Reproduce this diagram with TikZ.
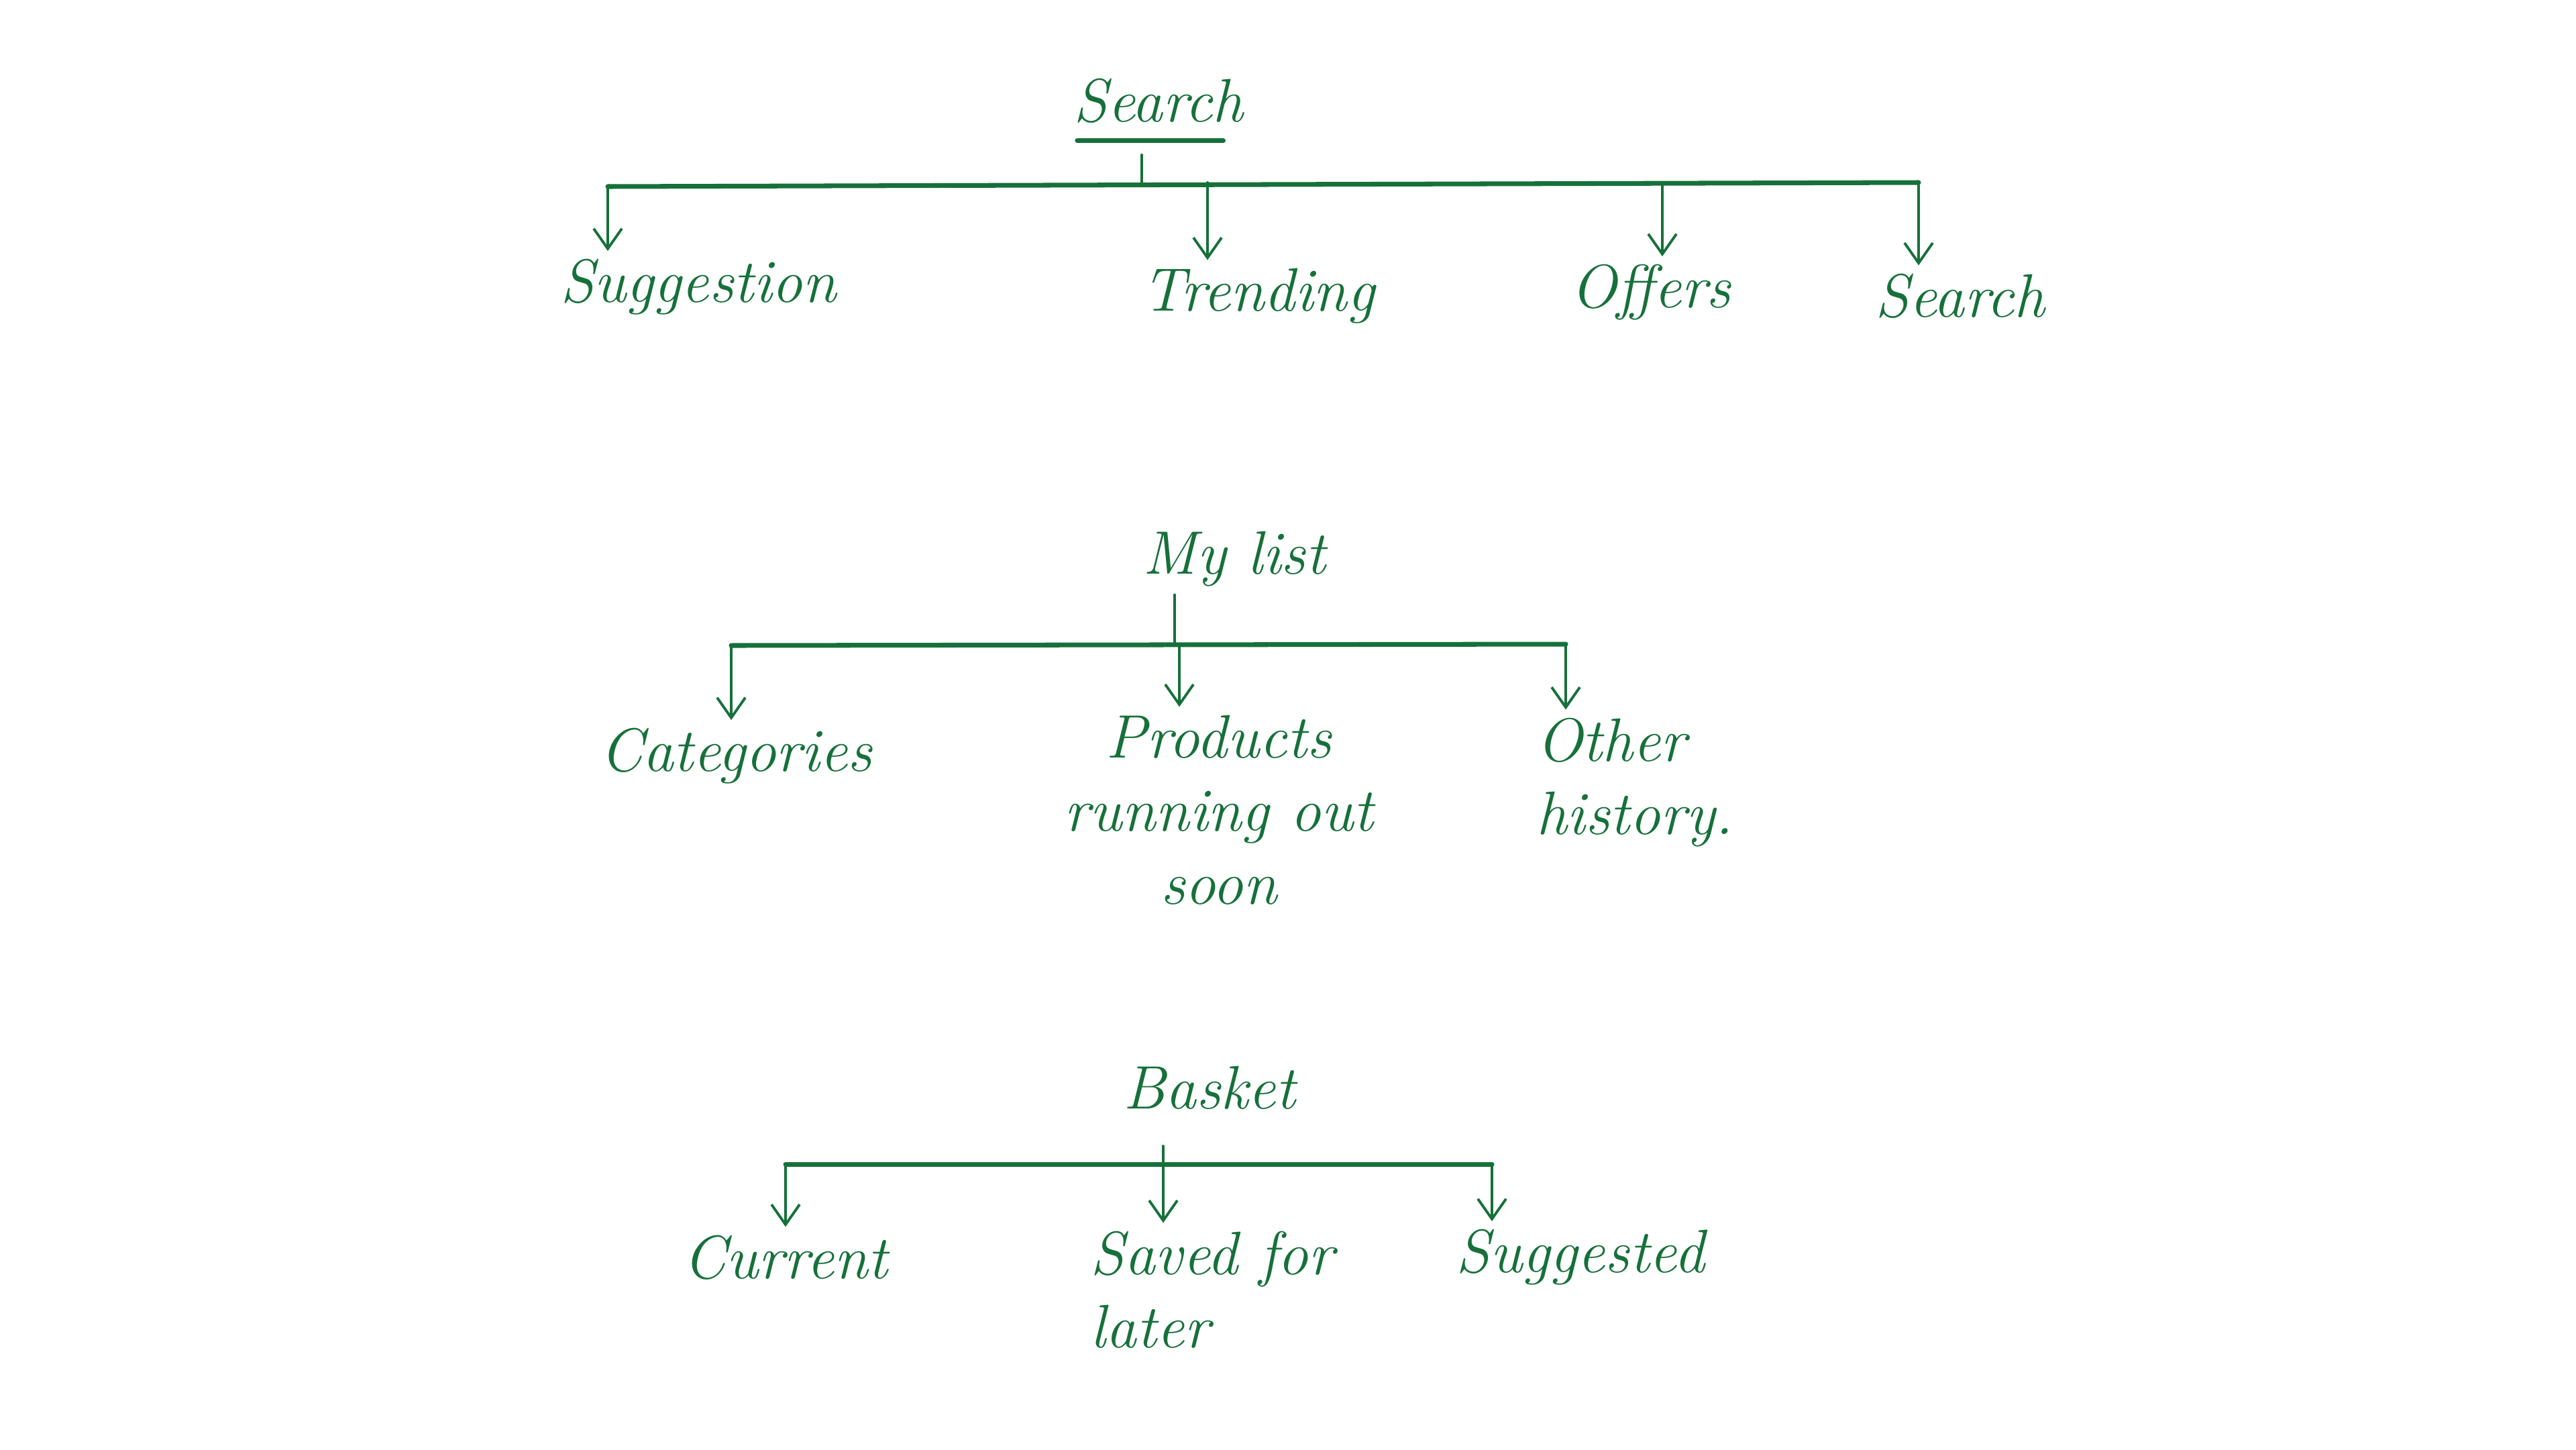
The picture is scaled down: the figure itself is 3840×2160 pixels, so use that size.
\documentclass[tikz,border=0pt]{standalone}
\usetikzlibrary{arrows.meta}
\definecolor{ink}{RGB}{22,112,58}
\begin{document}
\begin{tikzpicture}[x=0.01cm, y=-0.01cm, line cap=round,
    every node/.style={font=\fontsize{26}{31}\selectfont\itshape, text=ink, align=center},
    bar/.style={draw=ink, line width=2pt},
    stem/.style={draw=ink, line width=1.1pt},
    drop/.style={draw=ink, line width=1.1pt, -{Straight Barb[length=0.3cm,width=0.42cm]}}]
  \useasboundingbox (0,0) rectangle (3840,2160);
  % search
  \node (search) at (1727,150) {Search};
  \node (sugg) at (1041,428) {Suggestion};
  \node (trend) at (1876,441) {Trending};
  \node (offer) at (2461,436) {Offers};
  \node (find) at (2922,441) {Search};
  \coordinate (s0) at (1702,272);
  \coordinate (s1) at (906,278);
  \coordinate (s2) at (1800,272);
  \coordinate (s3) at (2478,272);
  \coordinate (s4) at (2860,272);
  \draw[bar] ([xshift=5pt,yshift=-4pt]search.south west) -- ([xshift=-12pt,yshift=-4pt]search.south east);
  \draw[stem] ([yshift=-10pt]s0 |- search.south) -- (s0);
  \draw[bar] (s1) -- (s4);
  \foreach \c/\n in {s1/sugg, s2/trend, s3/offer, s4/find}
    \draw[drop] (\c) -- (\c |- \n.north);
  % my list
  \node (list) at (1840,833) {My list};
  \node (cat) at (1097,1127) {Categories};
  \node (prod) at (1817,1207) {Products\\running out\\soon};
  \node[align=left] (other) at (2437,1166) {Other\\history.};
  \coordinate (l0) at (1751,960);
  \coordinate (l1) at (1090,962);
  \coordinate (l2) at (1758,960);
  \coordinate (l3) at (2334,960);
  \draw[stem] (l0 |- list.south) -- (l0);
  \draw[bar] (l1) -- (l3);
  \foreach \c/\n in {l1/cat, l2/prod, l3/other}
    \draw[drop] (\c) -- (\c |- \n.north);
  % basket
  \node (basket) at (1803,1621) {Basket};
  \node (cur) at (1171,1874) {Current};
  \node[align=left] (saved) at (1807,1922) {Saved for\\later};
  \node (sugd) at (2356,1874) {Suggested};
  \coordinate (b0) at (1734,1708);
  \coordinate (b1) at (1171,1735);
  \coordinate (b2) at (1734,1735);
  \coordinate (b3) at (2224,1735);
  \draw[stem] (b0) -- (b2);
  \draw[bar] (b1) -- (b3);
  \foreach \c/\n in {b1/cur, b2/saved, b3/sugd}
    \draw[drop] (\c) -- (\c |- \n.north);
\end{tikzpicture}
\end{document}
